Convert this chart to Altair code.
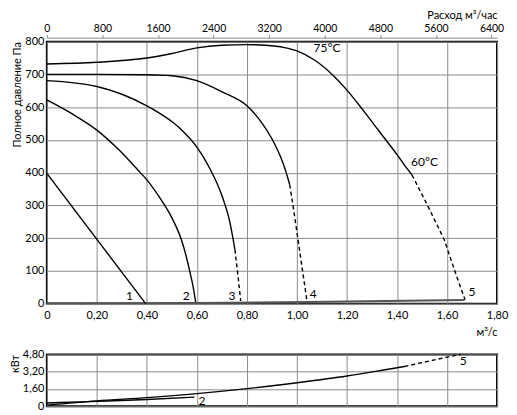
import altair as alt
import pandas as pd

FONT = "Lato"

# ---------------- pressure curves (m3/s -> Pa) ----------------
c75_q = [0, 0.2, 0.4, 0.5, 0.6, 0.7, 0.8, 0.875, 0.95, 1.0, 1.07, 1.15, 1.2, 1.265, 1.33, 1.4, 1.43, 1.46]
c75_p = [732, 737, 750, 764, 781, 789, 791, 789, 782, 772, 744, 693, 652, 590, 525, 455, 423, 393]
c75d_q = [1.46, 1.524, 1.589, 1.64, 1.672]
c75d_p = [393, 297, 195, 80, 12]

c700_q = [0, 0.2, 0.4, 0.5, 0.6, 0.7, 0.8, 0.856, 0.901, 0.934, 0.955, 0.971]
c700_p = [700, 700, 699, 696, 681, 647, 604, 556, 502, 449, 405, 363]
c700d_q = [0.971, 0.99, 1.01, 1.04]
c700d_p = [363, 270, 165, 8]

c680_q = [0, 0.2, 0.4, 0.45, 0.5, 0.55, 0.6, 0.65, 0.7, 0.73, 0.752]
c680_p = [681, 663, 604, 582, 556, 522, 478, 415, 330, 255, 165]
c680d_q = [0.752, 0.765, 0.775]
c680d_p = [165, 80, 8]

c620_q = [0, 0.1, 0.2, 0.285, 0.363, 0.4, 0.45, 0.5, 0.538, 0.556, 0.571, 0.584, 0.595]
c620_p = [622, 580, 530, 472, 409, 378, 325, 262, 195, 148, 100, 55, 5]

c400_q = [0, 0.395]
c400_p = [398, 0]

sys_q = [0, 0.6, 1.04, 1.67]
sys_p = [1, 2, 5, 11]

# ---------------- power curves (m3/s -> kW) ----------------
pw5_q = [0, 0.2, 0.4, 0.6, 0.8, 1.0, 1.2, 1.4, 1.43]
pw5_p = [0.1, 0.5, 0.8, 1.17, 1.63, 2.18, 2.8, 3.57, 3.68]
pw5d_q = [1.43, 1.6, 1.655]
pw5d_p = [3.68, 4.55, 4.8]

pw2_q = [0, 0.2, 0.4, 0.59]
pw2_p = [0.3, 0.45, 0.62, 0.84]

# ---------------- labels ----------------
lab_main_txt = ["1", "2", "3", "4", "5", "75°C", "60°C"]
lab_main_q = [0.33, 0.557, 0.74, 1.065, 1.70, 1.12, 1.51]
lab_main_p = [22, 22, 22, 30, 35, 782, 433]

lab_pw_txt = ["2", "5"]
lab_pw_q = [0.62, 1.665]
lab_pw_p = [0.5, 4.2]

x_ticks = [0, 0.2, 0.4, 0.6, 0.8, 1.0, 1.2, 1.4, 1.6, 1.8]
y_ticks = [0, 100, 200, 300, 400, 500, 600, 700, 800]
top_ticks = [0, 800, 1600, 2400, 3200, 4000, 4800, 5600, 6400]
pw_ticks = [0, 1.6, 3.2, 4.8]


def build(segs):
    rows = []
    for name, qs, ps in segs:
        for i, (q, p) in enumerate(zip(qs, ps)):
            rows.append({"q": q, "p": p, "seg": name, "ord": i})
    return pd.DataFrame(rows)


solid_df = build([("c75", c75_q, c75_p), ("c700", c700_q, c700_p), ("c680", c680_q, c680_p),
                  ("c620", c620_q, c620_p), ("c400", c400_q, c400_p)])
dashed_df = build([("c75d", c75d_q, c75d_p), ("c700d", c700d_q, c700d_p), ("c680d", c680d_q, c680d_p)])
sys_df = build([("sys", sys_q, sys_p)])
pw_solid_df = build([("pw5", pw5_q, pw5_p), ("pw2", pw2_q, pw2_p)])
pw_dashed_df = build([("pw5d", pw5d_q, pw5d_p)])
lab_main = pd.DataFrame({"t": lab_main_txt, "q": lab_main_q, "p": lab_main_p})
lab_pw = pd.DataFrame({"t": lab_pw_txt, "q": lab_pw_q, "p": lab_pw_p})

GRID = "#8a8a8a"
comma = "datum.value == 0 ? '0' : replace(format(datum.value, '.2f'), '.', ',')"

xs = alt.Scale(domain=[0, 1.8], nice=False, zero=False)
ys = alt.Scale(domain=[0, 800], nice=False)
pws = alt.Scale(domain=[0, 4.8], nice=False)

x_axis = alt.Axis(values=x_ticks, labelExpr=comma, title="м³/с", titleAnchor="end",
                  grid=True, gridColor=GRID, domain=False, ticks=False, labelFlush=False,
                  labelOverlap=False, labelPadding=6, titlePadding=6, titleFontWeight="normal")
y_axis = alt.Axis(values=y_ticks, title="Полное давление Па", titleAnchor="end",
                  grid=True, gridColor=GRID, domain=False, ticks=False, labelOverlap=False,
                  labelPadding=3, titlePadding=2, titleFontWeight="normal", labelFlush=False)
x_axis_pw = alt.Axis(values=x_ticks, labels=False, title=None, grid=True,
                     gridColor=GRID, domain=False, ticks=False)
y_axis_pw = alt.Axis(values=pw_ticks, labelExpr=comma, title="кВт", titleAnchor="end",
                     grid=True, gridColor=GRID, domain=False, ticks=False, labelPadding=3,
                     labelOverlap=False, titlePadding=2, titleFontWeight="normal", labelFlush=False)

XM = alt.X("q:Q", scale=xs, axis=x_axis)
YM = alt.Y("p:Q", scale=ys, axis=y_axis)
XP = alt.X("q:Q", scale=xs, axis=x_axis_pw)
YP = alt.Y("p:Q", scale=pws, axis=y_axis_pw)

curves = alt.Chart(solid_df).mark_line(color="black", strokeWidth=1.4, interpolate="monotone").encode(
    x=XM, y=YM, detail="seg:N", order="ord:Q")
dashed = alt.Chart(dashed_df).mark_line(color="black", strokeWidth=1.4, strokeDash=[4, 3]).encode(
    x=XM, y=YM, detail="seg:N", order="ord:Q")
sysline = alt.Chart(sys_df).mark_line(color="#555", strokeWidth=2).encode(
    x=XM, y=YM, order="ord:Q")
labels = alt.Chart(lab_main).mark_text(font=FONT, fontSize=12, color="black").encode(
    x=XM, y=YM, text="t:N")

top = alt.Chart(pd.DataFrame({"qh": [0, 6480]})).mark_point(opacity=0).encode(
    x=alt.X("qh:Q", scale=alt.Scale(domain=[0, 6480], nice=False, zero=False),
            axis=alt.Axis(orient="top", values=top_ticks, format="d", title="Расход м³/час",
                          titleAnchor="end", offset=4, domainColor="#888", tickColor="#888",
                          tickSize=3, grid=False, labelFlush=False, labelOverlap=False,
                          labelPadding=1, titlePadding=3, titleFontWeight="normal",
                          labelFontSize=10.5)))

main = alt.layer(alt.layer(sysline, curves, dashed, labels), top).resolve_scale(x="independent").properties(
    width=452, height=263)

# ---------------- power panel ----------------
pw_lines = alt.Chart(pw_solid_df).mark_line(color="black", strokeWidth=1.4, interpolate="monotone").encode(
    x=XP, y=YP, detail="seg:N", order="ord:Q")
pw_dash = alt.Chart(pw_dashed_df).mark_line(color="black", strokeWidth=1.4, strokeDash=[4, 3]).encode(
    x=XP, y=YP, detail="seg:N", order="ord:Q")
pw_labels = alt.Chart(lab_pw).mark_text(font=FONT, fontSize=12, color="black").encode(
    x=XP, y=YP, text="t:N")
power = alt.layer(pw_lines, pw_dash, pw_labels).properties(width=452, height=52)

chart = alt.vconcat(main, power, spacing=51, bounds="flush").properties(padding=0).configure_view(
    stroke="black", strokeWidth=2
).configure_axis(labelFont=FONT, titleFont=FONT, labelFontSize=11, titleFontSize=11,
                 labelColor="black", titleColor="black")

chart.save("out.html", embed_options={"renderer": "svg", "actions": False})
